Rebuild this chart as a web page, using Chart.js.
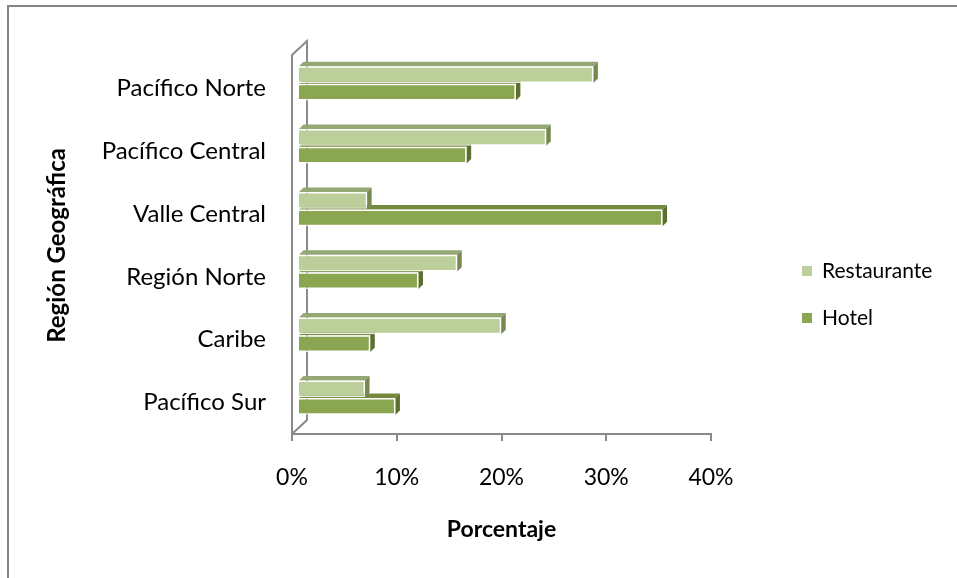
<!DOCTYPE html>
<html>
<head>
<meta charset="utf-8">
<script src="https://cdn.jsdelivr.net/npm/chart.js@4.4.1/dist/chart.umd.min.js"></script>
<style>
  html, body { margin: 0; padding: 0; background: #fff; }
  canvas { display: block; }
</style>
</head>
<body>
<canvas id="chart" width="957" height="578"></canvas>
<script>
// datos
const regiones = ['Pacífico Norte', 'Pacífico Central', 'Valle Central', 'Región Norte', 'Caribe', 'Pacífico Sur'];
const restaurante = [28.2, 23.7, 6.6, 15.2, 19.4, 6.4];
const hotel = [20.8, 16.1, 34.8, 11.5, 6.9, 9.3];
const ticksX = [0, 10, 20, 30, 40];

const FONT = 'Lato, "Open Sans", sans-serif';
const GRIS = '#8a8a8a';
const colores = {
    restaurante: { front: '#bccf9a', top: '#94a874', side: '#77894f' },
    hotel: { front: '#8ba651', top: '#74893f', side: '#5c6f2e' }
};
const DEPTH = 4.5;      // profundidad de las barras
const SHIFT_X = 6, SHIFT_Y = -5;  // desplazamiento 3D de las barras
const WALL_X = 15, WALL_Y = -14;  // profundidad de la pared

// marco exterior y ejes 3D
const marco = {
    id: 'marco',
    beforeDraw(chart) {
        const ctx = chart.ctx;
        ctx.save();
        ctx.strokeStyle = '#858585';
        ctx.lineWidth = 2;
        ctx.beginPath();
        ctx.moveTo(8, 600);
        ctx.lineTo(8, 6);
        ctx.lineTo(960, 6);
        ctx.stroke();
        ctx.restore();
    },
    beforeDatasetsDraw(chart) {
        const ctx = chart.ctx;
        const a = chart.chartArea;
        ctx.save();
        ctx.strokeStyle = GRIS;
        ctx.lineWidth = 2;
        const topY = a.top - 2;
        ctx.beginPath();
        ctx.moveTo(a.left, a.bottom);
        ctx.lineTo(a.left, topY);
        ctx.lineTo(a.left + WALL_X, topY + WALL_Y);
        ctx.lineTo(a.left + WALL_X, a.bottom + WALL_Y);
        ctx.lineTo(a.left, a.bottom);
        ctx.stroke();

        // caras superiores y laterales de las barras
        ctx.translate(SHIFT_X, SHIFT_Y);
        const orden = [1, 0];
        orden.forEach(i => {
            const meta = chart.getDatasetMeta(i);
            const c = i === 0 ? colores.restaurante : colores.hotel;
            meta.data.forEach(bar => {
                const p = bar.getProps(['x', 'y', 'base', 'height'], true);
                const x0 = p.base, x1 = p.x;
                const y0 = p.y - p.height / 2, y1 = p.y + p.height / 2;
                ctx.fillStyle = c.top;
                ctx.beginPath();
                ctx.moveTo(x0, y0);
                ctx.lineTo(x0 + DEPTH, y0 - DEPTH);
                ctx.lineTo(x1 + DEPTH, y0 - DEPTH);
                ctx.lineTo(x1, y0);
                ctx.closePath();
                ctx.fill();
                ctx.fillStyle = c.side;
                ctx.beginPath();
                ctx.moveTo(x1, y0);
                ctx.lineTo(x1 + DEPTH, y0 - DEPTH);
                ctx.lineTo(x1 + DEPTH, y1 - DEPTH);
                ctx.lineTo(x1, y1);
                ctx.closePath();
                ctx.fill();
            });
        });
        ctx.restore();
        // las caras frontales se dibujan desplazadas
        ctx.save();
        ctx.translate(SHIFT_X, SHIFT_Y);
    },
    afterDatasetsDraw(chart) {
        chart.ctx.restore();
    },
    afterDraw(chart) {
        // leyenda
        const ctx = chart.ctx;
        ctx.save();
        ctx.font = '21px ' + FONT;
        ctx.textBaseline = 'middle';
        const ys = [271, 318];
        chart.data.datasets.forEach((ds, i) => {
            ctx.fillStyle = ds.backgroundColor;
            ctx.fillRect(802, ys[i] - 5, 10, 10);
            ctx.fillStyle = '#000';
            ctx.fillText(ds.label, 822, ys[i]);
        });
        ctx.restore();
    }
};

new Chart(document.getElementById('chart'), {
    type: 'bar',
    data: {
        labels: regiones,
        datasets: [{
            label: 'Restaurante',
            data: restaurante,
            backgroundColor: colores.restaurante.front,
            borderColor: 'rgba(255,255,255,0.85)',
            borderWidth: 1.5,
            categoryPercentage: 0.56,
            barPercentage: 0.95
        }, {
            label: 'Hotel',
            data: hotel,
            backgroundColor: colores.hotel.front,
            borderColor: 'rgba(255,255,255,0.85)',
            borderWidth: 1.5,
            categoryPercentage: 0.56,
            barPercentage: 0.95
        }]
    },
    options: {
        indexAxis: 'y',
        responsive: false,
        animation: false,
        devicePixelRatio: 1,
        layout: { padding: { top: 57, right: 246, left: 0, bottom: 0 } },
        plugins: {
            legend: { display: false },
            tooltip: { enabled: false }
        },
        scales: {
            x: {
                min: 0,
                max: 40,
                afterBuildTicks: scale => { scale.ticks = ticksX.map(v => ({ value: v })); },
                afterFit: scale => { scale.height = 144; },
                border: { display: true, color: GRIS, width: 2 },
                grid: { drawOnChartArea: false, drawTicks: true, tickLength: 7, color: GRIS, lineWidth: 2 },
                ticks: {
                    callback: v => v + '%',
                    color: '#000',
                    font: { family: FONT, size: 23 },
                    padding: 23,
                    maxRotation: 0
                },
                title: {
                    display: true,
                    text: 'Porcentaje',
                    color: '#000',
                    font: { family: FONT, size: 23, weight: 'bold' },
                    padding: { top: 0, bottom: 35 }
                }
            },
            y: {
                afterFit: scale => { scale.width = 292; },
                border: { display: false },
                grid: { display: false, drawTicks: false },
                ticks: {
                    color: '#000',
                    font: { family: FONT, size: 24 },
                    padding: 26
                },
                title: {
                    display: true,
                    text: 'Región Geográfica',
                    color: '#000',
                    font: { family: FONT, size: 24, weight: 'bold' },
                    padding: { top: 43, bottom: 0 }
                }
            }
        }
    },
    plugins: [marco]
});
</script>
</body>
</html>
